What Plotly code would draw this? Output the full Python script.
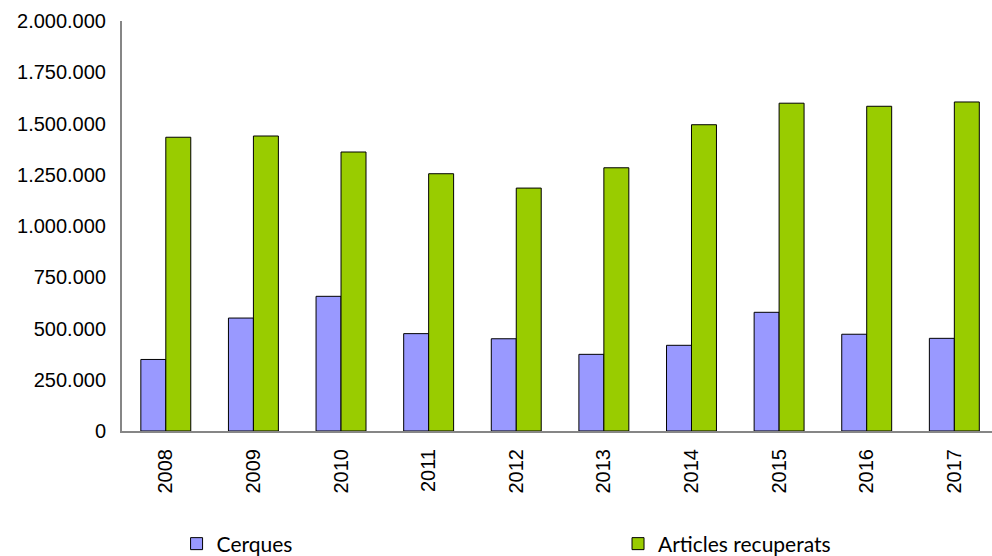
import plotly.graph_objects as go

years = ["2008", "2009", "2010", "2011", "2012", "2013", "2014", "2015", "2016", "2017"]
cerques = [349000, 551000, 657000, 475000, 450000, 374000, 418000, 579000, 472000, 452000]
articles = [1433000, 1439000, 1361000, 1255000, 1185000, 1284000, 1494000, 1599000, 1584000, 1605000]
y_ticks = [0, 250000, 500000, 750000, 1000000, 1250000, 1500000, 1750000, 2000000]
y_labels = ["0", "250.000", "500.000", "750.000", "1.000.000", "1.250.000", "1.500.000", "1.750.000", "2.000.000"]

fig = go.Figure()
fig.add_trace(go.Bar(x=years, y=cerques, name="Cerques", legend="legend",
                     marker=dict(color="#9999FF", line=dict(color="#000000", width=1))))
fig.add_trace(go.Bar(x=years, y=articles, name="Articles recuperats", legend="legend2",
                     marker=dict(color="#99CC00", line=dict(color="#000000", width=1))))

legend_font = dict(family="Lato, sans-serif", size=21, color="#000000")

fig.update_layout(
    width=992, height=556,
    margin=dict(l=122, r=0, t=21, b=125),
    paper_bgcolor="white", plot_bgcolor="white",
    barmode="group", bargap=0.43, bargroupgap=0,
    font=dict(family="Liberation Sans, Arial, sans-serif", size=20, color="#000000"),
    xaxis=dict(type="category", range=[-0.5, 9.43], showgrid=False, showline=True,
               linecolor="#868686", linewidth=2, ticks="", tickangle=-90,
               tickfont=dict(size=20), ticklabelstandoff=8, automargin=False),
    yaxis=dict(range=[0, 2000000], tickvals=y_ticks, ticktext=y_labels, showgrid=False,
               showline=True, linecolor="#868686", linewidth=2, ticks="", zeroline=False,
               tickfont=dict(size=20), ticklabelstandoff=10, automargin=False),
    legend=dict(orientation="h", xref="container", yref="container",
                x=0.178, xanchor="left", y=0.0216, yanchor="middle",
                font=legend_font, bgcolor="rgba(0,0,0,0)"),
    legend2=dict(orientation="h", xref="container", yref="container",
                 x=0.623, xanchor="left", y=0.0216, yanchor="middle",
                 font=legend_font, bgcolor="rgba(0,0,0,0)"),
    showlegend=True,
)

fig.write_html("out.html", config={"displayModeBar": False},
               post_script="document.body.style.margin='0';document.body.style.overflow='hidden';")
